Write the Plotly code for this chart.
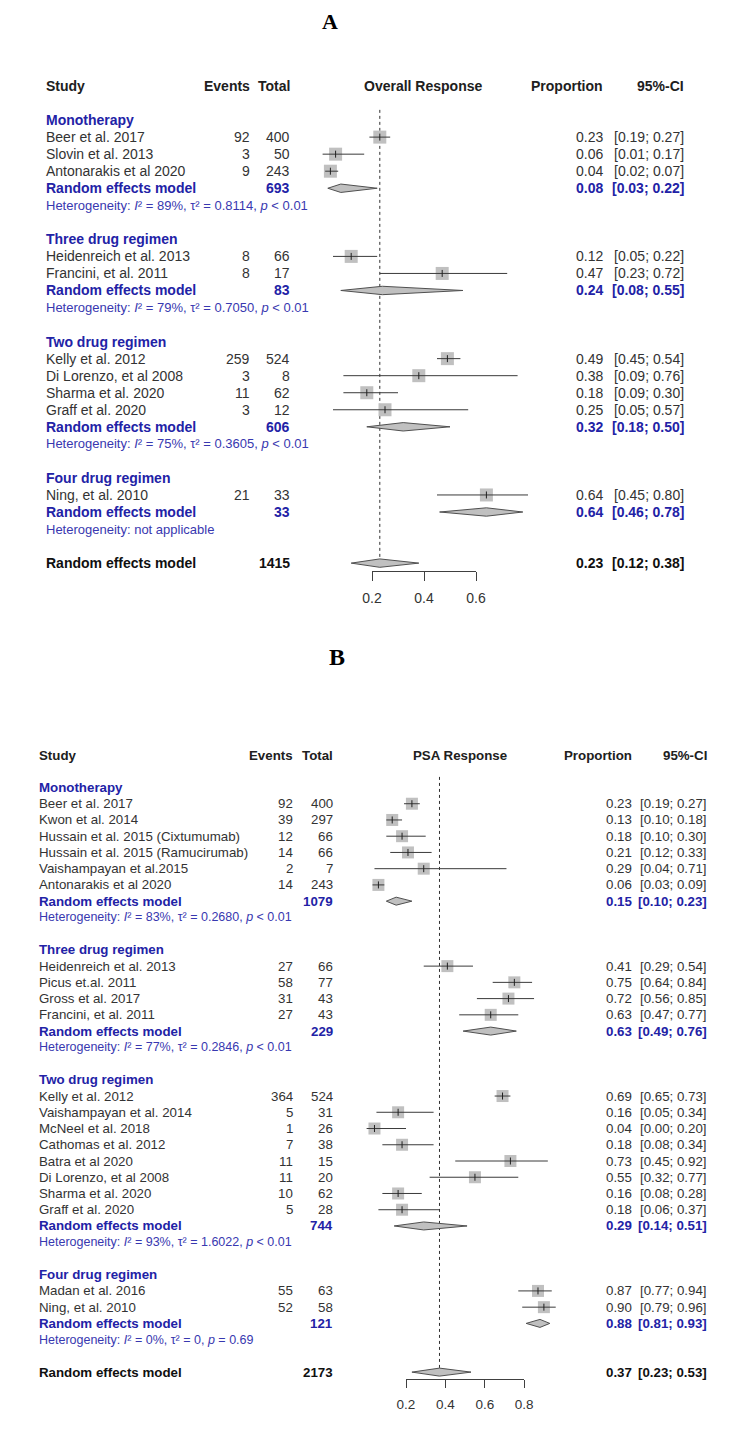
import plotly.graph_objects as go

W, H = 750, 1442
FONT = "Liberation Sans, Arial, sans-serif"
SERIF = "Liberation Serif, Times New Roman, serif"

# ---------------- Panel A data (Overall Response) ----------------
A_groups = ["Monotherapy", "Three drug regimen", "Two drug regimen", "Four drug regimen"]
A_study = ["Beer et al. 2017", "Slovin et al. 2013", "Antonarakis et al 2020",
           "Heidenreich et al. 2013", "Francini, et al. 2011",
           "Kelly et al. 2012", "Di Lorenzo, et al 2008", "Sharma et al. 2020", "Graff et al. 2020",
           "Ning, et al. 2010"]
A_group = [0, 0, 0, 1, 1, 2, 2, 2, 2, 3]
A_events = [92, 3, 9, 8, 8, 259, 3, 11, 3, 21]
A_total = [400, 50, 243, 66, 17, 524, 8, 62, 12, 33]
A_prop = [0.23, 0.06, 0.04, 0.12, 0.47, 0.49, 0.38, 0.18, 0.25, 0.64]
A_lo = [0.19, 0.01, 0.02, 0.05, 0.23, 0.45, 0.09, 0.09, 0.05, 0.45]
A_hi = [0.27, 0.17, 0.07, 0.22, 0.72, 0.54, 0.76, 0.30, 0.57, 0.80]
A_sub_total = [693, 83, 606, 33]
A_sub_prop = [0.08, 0.24, 0.32, 0.64]
A_sub_lo = [0.03, 0.08, 0.18, 0.46]
A_sub_hi = [0.22, 0.55, 0.50, 0.78]
A_sub_I2 = ["89%", "79%", "75%", None]
A_sub_tau2 = ["0.8114", "0.7050", "0.3605", None]
A_sub_p = ["&lt; 0.01", "&lt; 0.01", "&lt; 0.01", None]
A_all_total = 1415
A_all = (0.23, 0.12, 0.38)
A_all_het = ("96%", "1.2842", "&lt; 0.01")
A_resid = ("91%", "&lt; 0.01")
A_ticks = [0.2, 0.4, 0.6]

# ---------------- Panel B data (PSA Response) ----------------
B_groups = ["Monotherapy", "Three drug regimen", "Two drug regimen", "Four drug regimen"]
B_study = ["Beer et al. 2017", "Kwon et al. 2014", "Hussain et al. 2015 (Cixtumumab)",
           "Hussain et al. 2015 (Ramucirumab)", "Vaishampayan et al.2015", "Antonarakis et al 2020",
           "Heidenreich et al. 2013", "Picus et.al. 2011", "Gross et al. 2017", "Francini, et al. 2011",
           "Kelly et al. 2012", "Vaishampayan et al. 2014", "McNeel et al. 2018", "Cathomas et al. 2012",
           "Batra et al 2020", "Di Lorenzo, et al 2008", "Sharma et al. 2020", "Graff et al. 2020",
           "Madan et al. 2016", "Ning, et al. 2010"]
B_group = [0, 0, 0, 0, 0, 0, 1, 1, 1, 1, 2, 2, 2, 2, 2, 2, 2, 2, 3, 3]
B_events = [92, 39, 12, 14, 2, 14, 27, 58, 31, 27, 364, 5, 1, 7, 11, 11, 10, 5, 55, 52]
B_total = [400, 297, 66, 66, 7, 243, 66, 77, 43, 43, 524, 31, 26, 38, 15, 20, 62, 28, 63, 58]
B_prop = [0.23, 0.13, 0.18, 0.21, 0.29, 0.06, 0.41, 0.75, 0.72, 0.63,
          0.69, 0.16, 0.04, 0.18, 0.73, 0.55, 0.16, 0.18, 0.87, 0.90]
B_lo = [0.19, 0.10, 0.10, 0.12, 0.04, 0.03, 0.29, 0.64, 0.56, 0.47,
        0.65, 0.05, 0.00, 0.08, 0.45, 0.32, 0.08, 0.06, 0.77, 0.79]
B_hi = [0.27, 0.18, 0.30, 0.33, 0.71, 0.09, 0.54, 0.84, 0.85, 0.77,
        0.73, 0.34, 0.20, 0.34, 0.92, 0.77, 0.28, 0.37, 0.94, 0.96]
B_sub_total = [1079, 229, 744, 121]
B_sub_prop = [0.15, 0.63, 0.29, 0.88]
B_sub_lo = [0.10, 0.49, 0.14, 0.81]
B_sub_hi = [0.23, 0.76, 0.51, 0.93]
B_sub_I2 = ["83%", "77%", "93%", "0%"]
B_sub_tau2 = ["0.2680", "0.2846", "1.6022", "0"]
B_sub_p = ["&lt; 0.01", "&lt; 0.01", "&lt; 0.01", "= 0.69"]
B_all_total = 2173
B_all = (0.37, 0.23, 0.53)
B_all_het = ("97%", "2.1281", "&lt; 0.01")
B_resid = ("91%", "&lt; 0.01")
B_ticks = [0.2, 0.4, 0.6, 0.8]

TXT = "#333333"
BLUE = "#2222a6"
HETBLUE = "#3838b0"
SQ = "#c0c0c0"
LINE = "#3a3a3a"

fig = go.Figure()


def het_text(I2, tau2, p):
    if I2 is None:
        return "Heterogeneity: not applicable"
    return (f"Heterogeneity: <i>I</i>\u00b2 = {I2}, \u03c4\u00b2 = {tau2}, "
            f"<i>p</i> {p}")


def build_panel(cfg, groups, study, group, events, total, prop, lo, hi,
                sub_total, sub_prop, sub_lo, sub_hi, sub_I2, sub_tau2, sub_p,
                all_total, allv, all_het, resid, ticks, title):
    rows = [("header", None), ("blank", None)]
    for g in range(len(groups)):
        rows.append(("group", g))
        for i, gi in enumerate(group):
            if gi == g:
                rows.append(("study", i))
        rows.append(("re", g))
        rows.append(("het", g))
        rows.append(("blank", None))
    rows.append(("overall", None))
    rows.append(("ohet", None))
    rows.append(("resid", None))

    xa, ya, xt = cfg["xa"], cfg["ya"], cfg["xt"]
    x0, ppu = cfg["x0"], cfg["ppu"]
    ytop, dy = cfg["yhead"], cfg["dy"]
    fs, hfs = cfg["fs"], cfg["hfs"]
    xref_tr = "x" if xa == "xaxis" else "x" + xa[5:]
    yref_tr = "y" if ya == "yaxis" else "y" + ya[5:]
    xt_ref = "x" + xt[5:]

    dom_l, dom_r = cfg["mark_l"], cfg["mark_r"]
    fig.layout[xa] = dict(domain=[dom_l / W, dom_r / W],
                          range=[(dom_l - x0) / ppu, (dom_r - x0) / ppu],
                          visible=False, anchor=yref_tr, fixedrange=True)
    ybot, ytopd = cfg["axis_y"], cfg["ydom_top"]
    fig.layout[ya] = dict(domain=[1 - ybot / H, 1 - ytopd / H],
                          range=[(ybot - ytop) / dy, (ytopd - ytop) / dy],
                          visible=False, anchor=xref_tr, fixedrange=True)
    tl, tr = ticks[0], ticks[-1]
    fig.layout[xt] = dict(domain=[(x0 + tl * ppu) / W, (x0 + tr * ppu) / W],
                          range=[tl, tr], anchor=yref_tr, tickvals=ticks,
                          ticktext=[f"{t:.1f}" for t in ticks],
                          ticks="outside", ticklen=cfg["ticklen"], tickwidth=1,
                          tickcolor="#404040", showline=True, linecolor="#404040",
                          linewidth=1, showgrid=False, zeroline=False,
                          ticklabelstandoff=cfg["standoff"],
                          tickfont=dict(family=FONT, size=cfg["tfs"], color=TXT),
                          fixedrange=True)
    fig.add_trace(go.Scatter(x=ticks, y=[None] * len(ticks), xaxis=xt_ref, yaxis=yref_tr,
                             mode="markers", marker=dict(size=0, opacity=0),
                             hoverinfo="skip", showlegend=False))

    study_row, re_row, overall_row = {}, {}, None
    for r, (kind, idx) in enumerate(rows):
        if kind == "study":
            study_row[idx] = r
        elif kind == "re":
            re_row[idx] = r
        elif kind == "overall":
            overall_row = r

    # dotted reference line at the overall estimate
    fig.add_trace(go.Scatter(x=[allv[0], allv[0]], y=[cfg["dot_top"], overall_row - 0.2],
                             xaxis=xref_tr, yaxis=yref_tr, mode="lines",
                             line=dict(color="#303030", width=1, dash="dot"),
                             hoverinfo="skip", showlegend=False))

    srows = [study_row[i] for i in range(len(study))]
    fig.add_trace(go.Scatter(x=prop, y=srows, xaxis=xref_tr, yaxis=yref_tr, mode="markers",
                             marker=dict(symbol="square", size=cfg["sq"], color=SQ, line=dict(width=0)),
                             hoverinfo="skip", showlegend=False))
    cx, cy = [], []
    for i in range(len(study)):
        cx += [lo[i], hi[i], None]
        cy += [srows[i], srows[i], None]
    fig.add_trace(go.Scatter(x=cx, y=cy, xaxis=xref_tr, yaxis=yref_tr, mode="lines",
                             line=dict(color=LINE, width=1), hoverinfo="skip", showlegend=False))
    fig.add_trace(go.Scatter(x=prop, y=srows, xaxis=xref_tr, yaxis=yref_tr, mode="markers",
                             marker=dict(symbol="line-ns", size=5, line=dict(width=1, color="#202020")),
                             hoverinfo="skip", showlegend=False))
    hh = cfg["dh"] / dy
    dx, dyy = [], []
    ests = [(sub_prop[g], sub_lo[g], sub_hi[g], re_row[g]) for g in range(len(groups))]
    ests.append((allv[0], allv[1], allv[2], overall_row))
    for (e, l, h, r) in ests:
        dx += [l, e, h, e, l, None]
        dyy += [r, r - hh, r, r + hh, r, None]
    fig.add_trace(go.Scatter(x=dx, y=dyy, xaxis=xref_tr, yaxis=yref_tr, mode="lines",
                             fill="toself", fillcolor=SQ, line=dict(color="#505050", width=1),
                             hoverinfo="skip", showlegend=False))

    def ann(text, xpix, row, anchor, size, color, bold=False):
        fig.add_annotation(text=f"<b>{text}</b>" if bold else text, x=xpix / W, xref="paper",
                           y=row, yref=yref_tr, xanchor=anchor, yanchor="middle",
                           showarrow=False, borderpad=0,
                           font=dict(family=FONT, size=size, color=color))

    cS, cE, cT, cP, cC, cH = cfg["cS"], cfg["cE"], cfg["cT"], cfg["cP"], cfg["cC"], cfg["cHead"]
    for r, (kind, idx) in enumerate(rows):
        if kind == "header":
            ann("Study", cS, r, "left", fs, "#202020", True)
            ann("Events", cE, r, "right", fs, "#202020", True)
            ann("Total", cT, r, "right", fs, "#202020", True)
            ann(title, cH, r, "center", fs, "#202020", True)
            ann("Proportion", cP, r, "right", fs, "#202020", True)
            ann("95%-CI", cC, r, "right", fs, "#202020", True)
        elif kind == "group":
            ann(groups[idx], cS, r, "left", fs, BLUE, True)
        elif kind == "study":
            ann(study[idx], cS, r, "left", fs, TXT)
            ann(str(events[idx]), cE, r, "right", fs, TXT)
            ann(str(total[idx]), cT, r, "right", fs, TXT)
            ann(f"{prop[idx]:.2f}", cP, r, "right", fs, TXT)
            ann(f"[{lo[idx]:.2f}; {hi[idx]:.2f}]", cC, r, "right", fs, TXT)
        elif kind == "re":
            ann("Random effects model", cS, r, "left", fs, BLUE, True)
            ann(str(sub_total[idx]), cT, r, "right", fs, BLUE, True)
            ann(f"{sub_prop[idx]:.2f}", cP, r, "right", fs, BLUE, True)
            ann(f"[{sub_lo[idx]:.2f}; {sub_hi[idx]:.2f}]", cC, r, "right", fs, BLUE, True)
        elif kind == "het":
            ann(het_text(sub_I2[idx], sub_tau2[idx], sub_p[idx]), cS, r, "left", hfs, HETBLUE)
        elif kind == "overall":
            ann("Random effects model", cS, r, "left", fs, "#101010", True)
            ann(str(all_total), cT, r, "right", fs, "#101010", True)
            ann(f"{allv[0]:.2f}", cP, r, "right", fs, "#101010", True)
            ann(f"[{allv[1]:.2f}; {allv[2]:.2f}]", cC, r, "right", fs, "#101010", True)
        elif kind == "ohet":
            ann(het_text(*all_het), cS, r, "left", hfs, TXT)
        elif kind == "resid":
            ann(f"Residual heterogeneity: <i>I</i>\u00b2 = {resid[0]}, <i>p</i> {resid[1]}",
                cS, r, "left", hfs, TXT)


cfgA = dict(xa="xaxis", ya="yaxis", xt="xaxis3", x0=320.0, ppu=260.0, yhead=86.0, dy=17.04,
            mark_l=300, mark_r=545, axis_y=571, ydom_top=60, fs=14, hfs=13, tfs=14,
            ticklen=9, standoff=5, sq=13, dh=4.2, dot_top=1.4,
            cS=45, cE=251, cT=291, cP=604, cC=685, cHead=423)
cfgB = dict(xa="xaxis2", ya="yaxis2", xt="xaxis4", x0=366.6, ppu=197.0, yhead=755.0, dy=16.24,
            mark_l=350, mark_r=560, axis_y=1379, ydom_top=730, fs=13.3, hfs=12.5, tfs=13.5,
            ticklen=8, standoff=5, sq=12, dh=4.0, dot_top=1.35,
            cS=38, cE=294, cT=334, cP=633, cC=708, cHead=460)

build_panel(cfgA, A_groups, A_study, A_group, A_events, A_total, A_prop, A_lo, A_hi,
            A_sub_total, A_sub_prop, A_sub_lo, A_sub_hi, A_sub_I2, A_sub_tau2, A_sub_p,
            A_all_total, A_all, A_all_het, A_resid, A_ticks, "Overall Response")
build_panel(cfgB, B_groups, B_study, B_group, B_events, B_total, B_prop, B_lo, B_hi,
            B_sub_total, B_sub_prop, B_sub_lo, B_sub_hi, B_sub_I2, B_sub_tau2, B_sub_p,
            B_all_total, B_all, B_all_het, B_resid, B_ticks, "PSA Response")

fig.add_annotation(text="<b>A</b>", x=330 / W, y=1 - 22 / H, xref="paper", yref="paper",
                   xanchor="center", yanchor="middle", showarrow=False,
                   font=dict(family=SERIF, size=22, color="#000000"))
fig.add_annotation(text="<b>B</b>", x=337 / W, y=1 - 657 / H, xref="paper", yref="paper",
                   xanchor="center", yanchor="middle", showarrow=False,
                   font=dict(family=SERIF, size=24, color="#000000"))

fig.update_layout(width=W, height=H, autosize=False,
                  margin=dict(l=0, r=0, t=0, b=0, autoexpand=False),
                  paper_bgcolor="white", plot_bgcolor="rgba(0,0,0,0)", showlegend=False)

fig.write_html("out.html", config={"displayModeBar": False, "staticPlot": True},
               post_script="document.body.style.margin='0px';document.body.style.overflow='hidden';")
